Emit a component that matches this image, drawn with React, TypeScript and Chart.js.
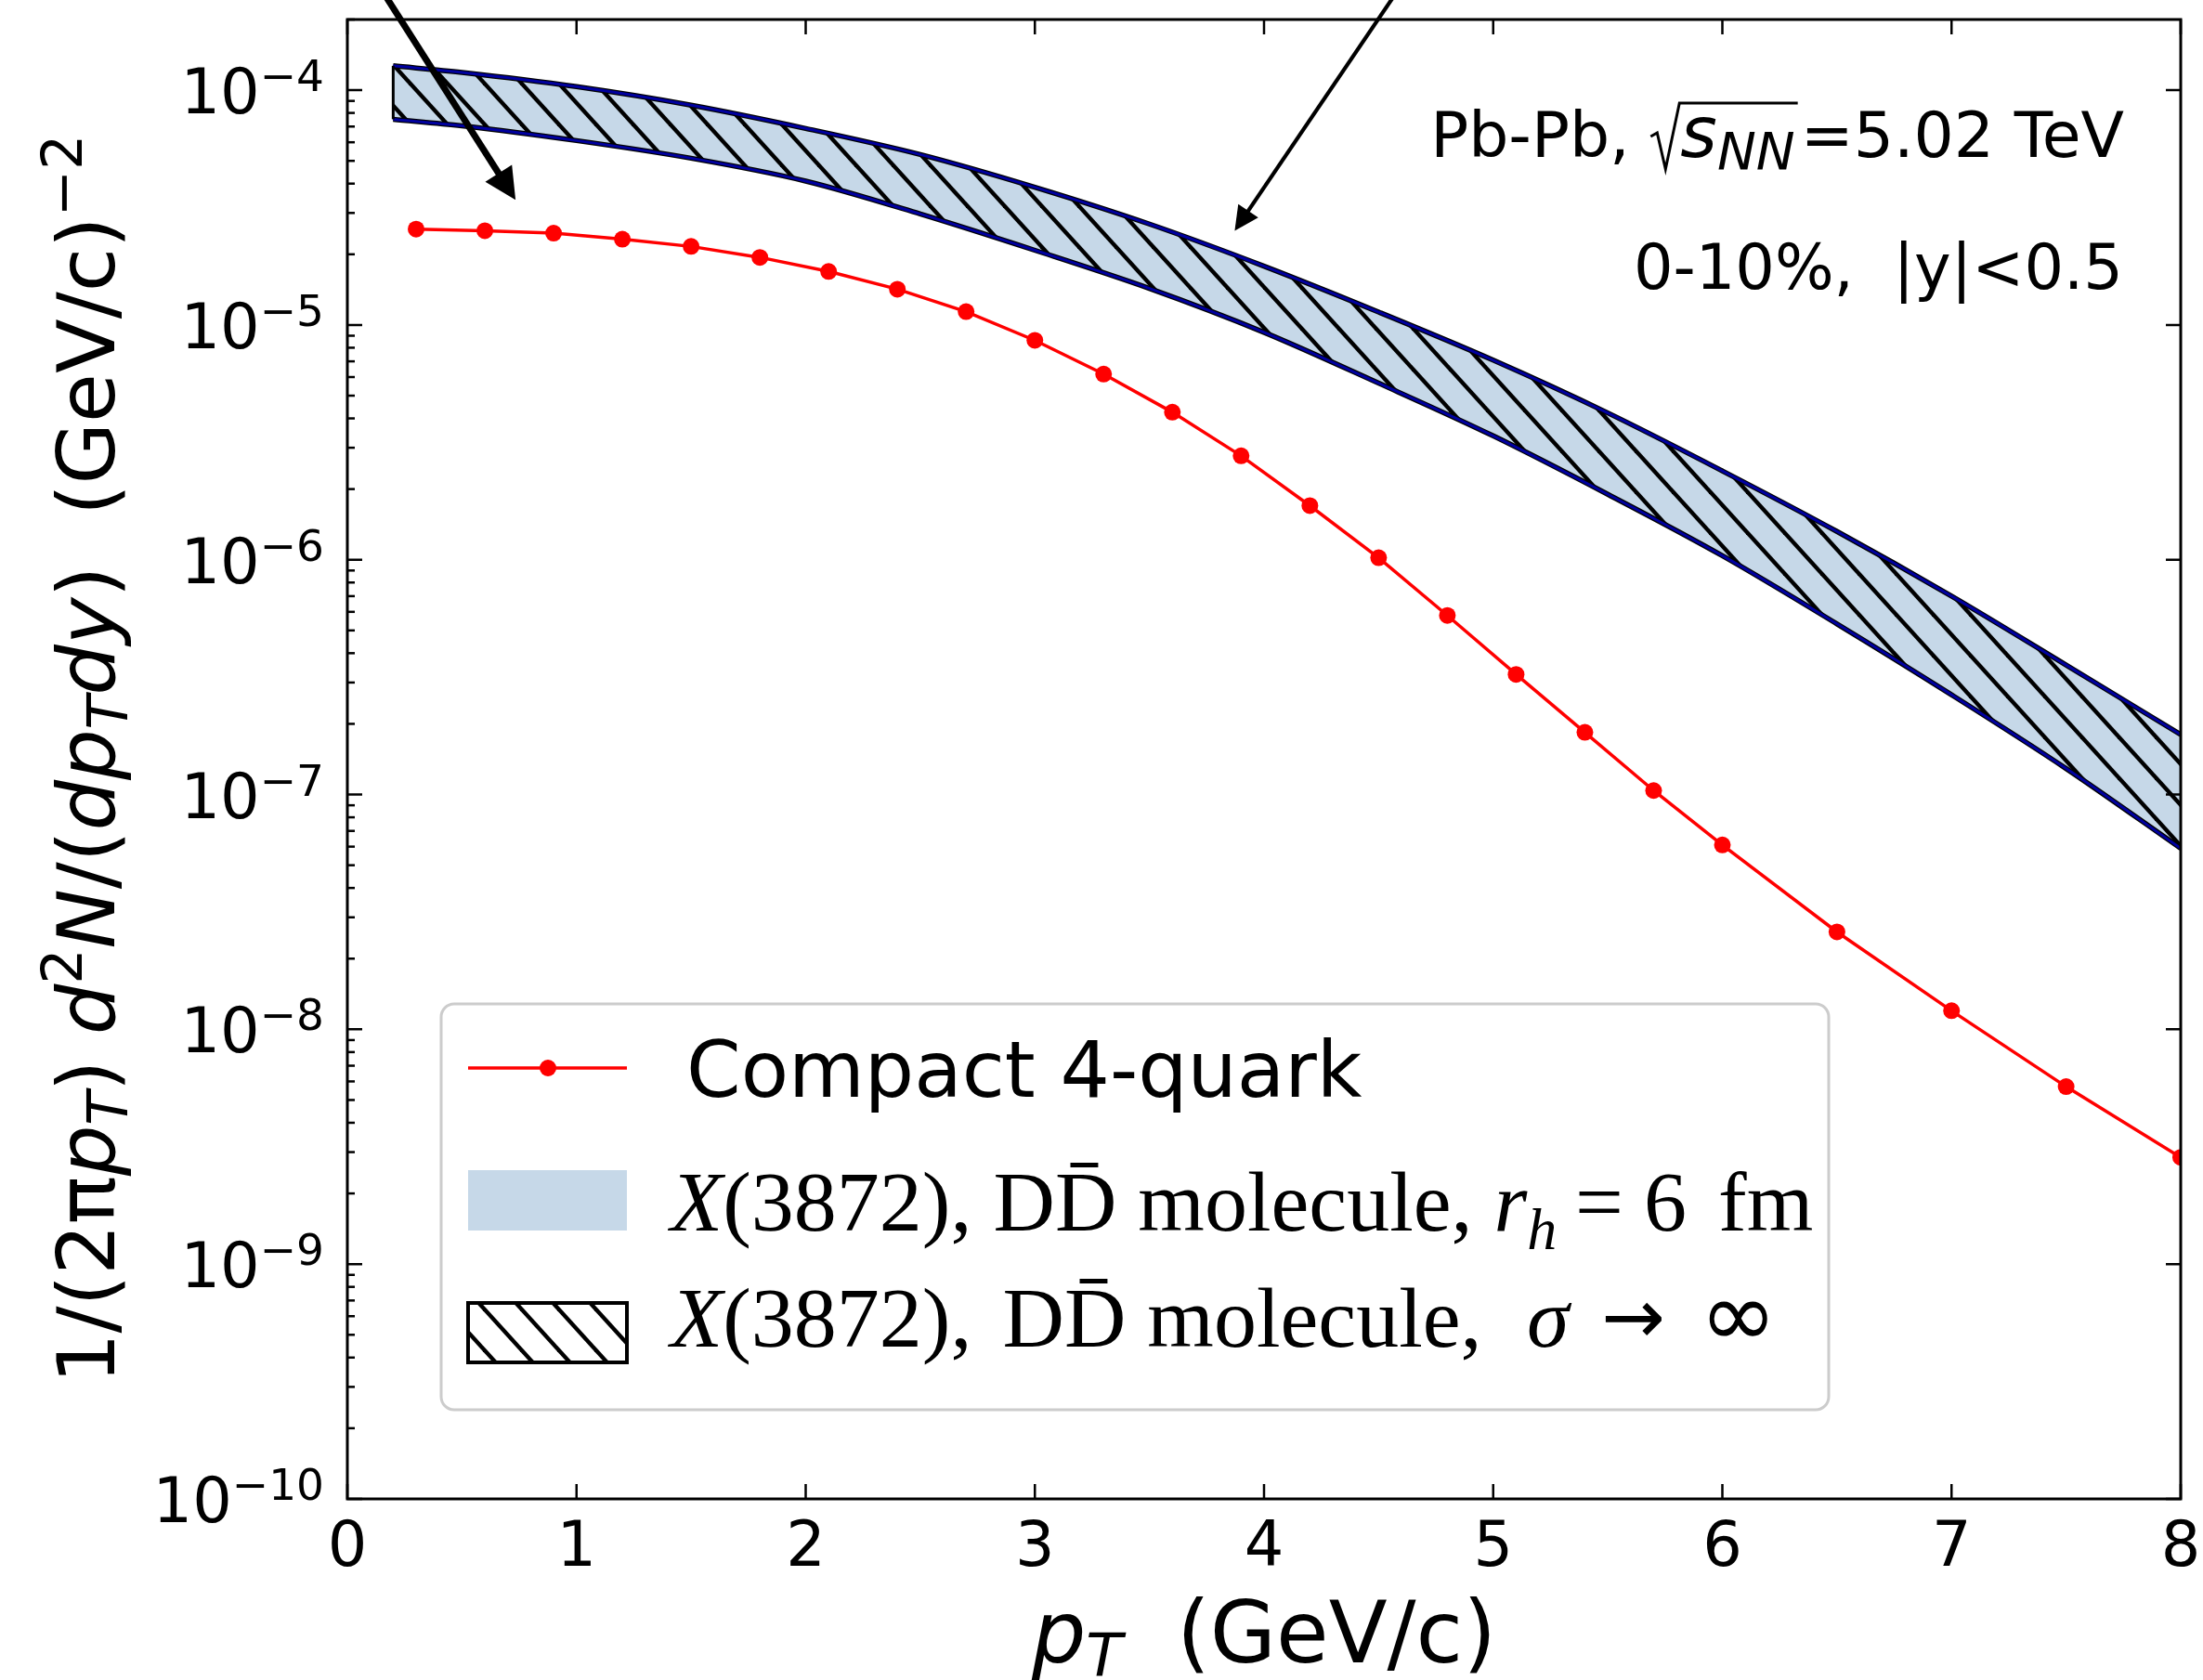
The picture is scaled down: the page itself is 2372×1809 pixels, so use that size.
import React, { useEffect, useRef } from 'react';
import { Chart, registerables } from 'chart.js';

Chart.register(...registerables);

// ---------------- data ----------------
const compactPt = [0.3, 0.6, 0.9, 1.2, 1.5, 1.8, 2.1, 2.4, 2.7, 3.0, 3.3, 3.6, 3.9, 4.2, 4.5, 4.8, 5.1, 5.4, 5.7, 6.0, 6.5, 7.0, 7.5, 8.0];
const compactYield = [2.56e-5, 2.52e-5, 2.46e-5, 2.32e-5, 2.16e-5, 1.94e-5, 1.69e-5, 1.42e-5, 1.14e-5, 8.6e-6, 6.18e-6, 4.25e-6, 2.77e-6, 1.7e-6, 1.02e-6, 5.79e-7, 3.25e-7, 1.84e-7, 1.04e-7, 6.1e-8, 2.6e-8, 1.2e-8, 5.7e-9, 2.85e-9];

const bandPt = [0.2, 0.5, 1.0, 1.5, 2.0, 2.5, 3.0, 3.5, 4.0, 4.5, 5.0, 5.5, 6.0, 6.5, 7.0, 7.5, 8.0];
const bandUpper = [1.27e-4, 1.19e-4, 1.035e-4, 8.63e-5, 6.87e-5, 5.32e-5, 3.86e-5, 2.69e-5, 1.78e-5, 1.135e-5, 7.08e-6, 4.22e-6, 2.39e-6, 1.32e-6, 7.0e-7, 3.56e-7, 1.8e-7];
const bandLower = [7.52e-5, 7.05e-5, 6.1e-5, 5.13e-5, 4.1e-5, 2.97e-5, 2.08e-5, 1.43e-5, 9.3e-6, 5.65e-6, 3.37e-6, 1.9e-6, 1.04e-6, 5.33e-7, 2.66e-7, 1.29e-7, 5.9e-8];

const xTickValues = [0, 1, 2, 3, 4, 5, 6, 7, 8];
const yTickExponents = [-10, -9, -8, -7, -6, -5, -4];

const legendCompact = 'Compact 4-quark';
const annotationLine2 = '0-10%,  |y|<0.5';

// arrows: [fromX, fromY, toX, toY] in data units
const arrowCompact = [0.178, 2.42e-4, 0.734, 3.41e-5];
const arrowMolecule = [4.555, 2.42e-4, 3.872, 2.52e-5];

// ---------------- styling ----------------
const W = 2372;
const H = 1809;
const SANS = '"DejaVu Sans", sans-serif';
const SERIF = '"Liberation Serif", "DejaVu Serif", serif';
const BAND_BLUE = 'rgb(198, 216, 232)';
const EDGE_BLUE = 'rgb(0, 0, 160)';

const nm = (s: number) => `${s}px ${SANS}`;
const it = (s: number) => `italic ${s}px ${SANS}`;
const snm = (s: number) => `${s}px ${SERIF}`;
const sit = (s: number) => `italic ${s}px ${SERIF}`;

type Run = { t: string; font: string; dy?: number; bar?: boolean; gap?: number; at?: number };

function runsWidth(ctx: CanvasRenderingContext2D, runs: Run[]) {
  let w = 0;
  for (const r of runs) {
    ctx.font = r.font;
    w += ctx.measureText(r.t).width + (r.gap || 0);
  }
  return w;
}

function drawRuns(ctx: CanvasRenderingContext2D, runs: Run[], x: number, y: number) {
  let cx = x;
  for (const r of runs) {
    if (r.at !== undefined) cx = r.at;
    ctx.font = r.font;
    const m = ctx.measureText(r.t);
    ctx.fillText(r.t, cx, y + (r.dy || 0));
    if (r.bar) {
      const top = y - m.actualBoundingBoxAscent;
      ctx.fillRect(cx + m.width * 0.25, top - 13, m.width * 0.45, 5);
    }
    cx += m.width + (r.gap || 0);
  }
  return cx;
}

// hatch tile: lines going down-right, period P horizontally, slope TH/P
function makeHatch(bg: string) {
  const P = 40;
  const TH = 44;
  const c = document.createElement('canvas');
  c.width = P;
  c.height = TH;
  const g = c.getContext('2d')!;
  g.fillStyle = bg;
  g.fillRect(0, 0, P, TH);
  g.strokeStyle = '#000';
  g.lineWidth = 4.4;
  for (let k = -3; k <= 3; k++) {
    g.beginPath();
    g.moveTo(k * P - 2 * P, -2 * TH);
    g.lineTo(k * P + 3 * P, 3 * TH);
    g.stroke();
  }
  return g.createPattern(c, 'repeat')!;
}

function drawArrow(ctx: CanvasRenderingContext2D, fx: number, fy: number, tx: number, ty: number, lw: number, hl: number, hw: number) {
  const dx = tx - fx;
  const dy = ty - fy;
  const L = Math.hypot(dx, dy);
  const ux = dx / L;
  const uy = dy / L;
  const bx = tx - ux * hl;
  const by = ty - uy * hl;
  ctx.lineWidth = lw;
  ctx.lineCap = 'butt';
  ctx.beginPath();
  ctx.moveTo(fx - ux * 60, fy - uy * 60);
  ctx.lineTo(bx + ux * 2, by + uy * 2);
  ctx.stroke();
  ctx.beginPath();
  ctx.moveTo(tx, ty);
  ctx.lineTo(bx - uy * hw, by + ux * hw);
  ctx.lineTo(bx + uy * hw, by - ux * hw);
  ctx.closePath();
  ctx.fill();
}

let legendHatch: CanvasPattern | null = null;

const decorPlugin = {
  id: 'decor',
  afterDraw(chart: any) {
    const ctx: CanvasRenderingContext2D = chart.ctx;
    const ca = chart.chartArea;
    const xs = chart.scales.x;
    const ys = chart.scales.y;
    ctx.save();
    ctx.fillStyle = '#000';
    ctx.strokeStyle = '#000';
    ctx.textBaseline = 'alphabetic';
    ctx.textAlign = 'left';

    // left closing edge of band
    const bx0 = xs.getPixelForValue(bandPt[0]);
    ctx.lineWidth = 3;
    ctx.beginPath();
    ctx.moveTo(bx0, ys.getPixelForValue(bandUpper[0]));
    ctx.lineTo(bx0, ys.getPixelForValue(bandLower[0]));
    ctx.stroke();

    // spines
    ctx.lineWidth = 3;
    ctx.strokeRect(ca.left, ca.top, ca.right - ca.left, ca.bottom - ca.top);

    // ticks
    ctx.lineWidth = 2.5;
    for (const v of xTickValues) {
      const px = xs.getPixelForValue(v);
      ctx.beginPath();
      ctx.moveTo(px, ca.bottom);
      ctx.lineTo(px, ca.bottom - 16);
      ctx.moveTo(px, ca.top);
      ctx.lineTo(px, ca.top + 16);
      ctx.stroke();
    }
    for (const e of yTickExponents) {
      const py = ys.getPixelForValue(Math.pow(10, e));
      ctx.beginPath();
      ctx.moveTo(ca.left, py);
      ctx.lineTo(ca.left + 16, py);
      ctx.moveTo(ca.right, py);
      ctx.lineTo(ca.right - 16, py);
      ctx.stroke();
      for (let k = 2; k <= 9; k++) {
        const v = k * Math.pow(10, e);
        if (v > ys.max * 1.0001) continue;
        const pm = ys.getPixelForValue(v);
        ctx.beginPath();
        ctx.moveTo(ca.left, pm);
        ctx.lineTo(ca.left + 8, pm);
        ctx.stroke();
      }
    }

    // x tick labels
    ctx.font = nm(67);
    ctx.textAlign = 'center';
    for (const v of xTickValues) {
      ctx.fillText(String(v), xs.getPixelForValue(v), 1686);
    }
    ctx.textAlign = 'left';

    // y tick labels 10^e
    for (const e of yTickExponents) {
      const py = ys.getPixelForValue(Math.pow(10, e));
      const sup = '\u2212' + String(-e);
      ctx.font = nm(47);
      const ws = ctx.measureText(sup).width;
      ctx.font = nm(67);
      const wm = ctx.measureText('10').width;
      const right = ca.left - 25;
      ctx.fillText('10', right - ws - wm, py + 25);
      ctx.font = nm(47);
      ctx.fillText(sup, right - ws, py + 1);
    }

    // x axis label
    const xl: Run[] = [
      { t: 'p', font: it(92) },
      { t: 'T', font: it(64), dy: 15 },
      { t: '  (GeV/c)', font: nm(92) },
    ];
    const xlw = runsWidth(ctx, xl);
    drawRuns(ctx, xl, (ca.left + ca.right) / 2 - xlw / 2, 1790);

    // y axis label
    const yl: Run[] = [
      { t: '1/(2\u03c0', font: nm(86) },
      { t: 'p', font: it(86) },
      { t: 'T', font: it(60), dy: 14 },
      { t: ') ', font: nm(86) },
      { t: 'd', font: it(86) },
      { t: '2', font: nm(60), dy: -35 },
      { t: 'N', font: it(86) },
      { t: '/(', font: nm(86) },
      { t: 'dp', font: it(86) },
      { t: 'T', font: it(60), dy: 14 },
      { t: 'dy', font: it(86) },
      { t: ')', font: nm(86) },
      { t: '  (GeV/c)', font: nm(86) },
      { t: '\u22122', font: nm(60), dy: -35 },
    ];
    const ylw = runsWidth(ctx, yl);
    ctx.save();
    ctx.translate(123, (ca.top + ca.bottom) / 2);
    ctx.rotate(-Math.PI / 2);
    drawRuns(ctx, yl, -ylw / 2, 0);
    ctx.restore();

    // annotation line 1: Pb-Pb, sqrt(s_NN)=5.02 TeV
    {
      const F = 68;
      const b = 169;
      const rightEdge = 2287;
      ctx.font = nm(F);
      const w1 = ctx.measureText('Pb-Pb, ').width;
      const radW = 33;
      ctx.font = it(76);
      const wsS = ctx.measureText('s').width;
      ctx.font = it(56);
      const wNN = ctx.measureText('NN').width;
      ctx.font = nm(F);
      const wRest = ctx.measureText('=5.02 TeV').width;
      const total = w1 + radW + wsS + wNN + 6 + wRest;
      let cx = rightEdge - total;
      ctx.font = nm(F);
      ctx.fillText('Pb-Pb, ', cx, b);
      cx += w1;
      const xr = cx;
      ctx.lineWidth = 3;
      ctx.lineJoin = 'miter';
      ctx.beginPath();
      ctx.moveTo(xr + 1, b - 22);
      ctx.lineTo(xr + 8, b - 26);
      ctx.lineTo(xr + 17, b + 13);
      ctx.lineTo(xr + radW - 1, b - 58);
      ctx.lineTo(xr + radW + wsS + wNN + 3, b - 58);
      ctx.stroke();
      cx += radW;
      ctx.font = it(76);
      ctx.fillText('s', cx, b);
      cx += wsS;
      ctx.font = it(56);
      ctx.fillText('NN', cx, b + 13);
      cx += wNN + 6;
      ctx.font = nm(F);
      ctx.fillText('=5.02 TeV', cx, b);
    }
    // annotation line 2
    ctx.font = nm(67);
    ctx.textAlign = 'right';
    ctx.fillText(annotationLine2, 2286, 311);
    ctx.textAlign = 'left';

    // legend
    ctx.fillStyle = 'rgba(255,255,255,0.8)';
    ctx.strokeStyle = '#cccccc';
    ctx.lineWidth = 3;
    ctx.beginPath();
    (ctx as any).roundRect(475, 1081, 1494, 437, 14);
    ctx.fill();
    ctx.stroke();

    // handle 1
    ctx.strokeStyle = 'red';
    ctx.fillStyle = 'red';
    ctx.lineWidth = 3.5;
    ctx.beginPath();
    ctx.moveTo(504, 1150);
    ctx.lineTo(675, 1150);
    ctx.stroke();
    ctx.beginPath();
    ctx.arc(590, 1150, 9, 0, Math.PI * 2);
    ctx.fill();
    // handle 2
    ctx.fillStyle = BAND_BLUE;
    ctx.fillRect(504, 1260, 171, 65);
    // handle 3
    if (!legendHatch) legendHatch = makeHatch('#ffffff');
    ctx.fillStyle = legendHatch;
    ctx.fillRect(504, 1403, 171, 64);
    ctx.strokeStyle = '#000';
    ctx.lineWidth = 4;
    ctx.strokeRect(504, 1403, 171, 64);

    ctx.fillStyle = '#000';
    ctx.font = nm(84);
    ctx.fillText(legendCompact, 739, 1181);

    const row2: Run[] = [
      { t: 'X', font: sit(92) },
      { t: '(3872), D', font: snm(92) },
      { t: 'D', font: snm(92), bar: true },
      { t: ' molecule, ', font: snm(92) },
      { t: 'r', font: sit(92) },
      { t: 'h', font: sit(64), dy: 20 },
      { t: '=', font: snm(92), at: 1696 },
      { t: '6', font: snm(92), at: 1770 },
      { t: 'fm', font: snm(92), at: 1850 },
    ];
    drawRuns(ctx, row2, 722, 1325);
    const row3: Run[] = [
      { t: 'X', font: sit(92) },
      { t: '(3872), ', font: snm(92), gap: 10 },
      { t: 'D', font: snm(92) },
      { t: 'D', font: snm(92), bar: true },
      { t: ' molecule,', font: snm(92) },
      { t: '\u03c3', font: sit(92), at: 1644 },
      { t: '\u2192', font: nm(82), dy: -4, at: 1724 },
      { t: '\u221e', font: nm(100), at: 1830 },
    ];
    drawRuns(ctx, row3, 722, 1450);

    // arrows
    ctx.fillStyle = '#000';
    ctx.strokeStyle = '#000';
    drawArrow(ctx,
      xs.getPixelForValue(arrowCompact[0]), ys.getPixelForValue(arrowCompact[1]),
      xs.getPixelForValue(arrowCompact[2]), ys.getPixelForValue(arrowCompact[3]),
      7, 34, 17);
    drawArrow(ctx,
      xs.getPixelForValue(arrowMolecule[0]), ys.getPixelForValue(arrowMolecule[1]),
      xs.getPixelForValue(arrowMolecule[2]), ys.getPixelForValue(arrowMolecule[3]),
      4.2, 26, 13);

    ctx.restore();
  },
};

export default function App() {
  const ref = useRef<HTMLCanvasElement>(null);
  useEffect(() => {
    const canvas = ref.current!;
    const hatch = makeHatch(BAND_BLUE);
    const upper = bandPt.map((x, i) => ({ x, y: bandUpper[i] }));
    const lower = bandPt.map((x, i) => ({ x, y: bandLower[i] }));
    const compact = compactPt.map((x, i) => ({ x, y: compactYield[i] }));
    const chart = new Chart(canvas, {
      type: 'line',
      data: {
        datasets: [
          {
            label: 'band upper',
            data: upper,
            borderColor: '#000',
            borderWidth: 5.5,
            backgroundColor: hatch as any,
            fill: '+1',
            pointRadius: 0,
            cubicInterpolationMode: 'monotone',
            order: 5,
            clip: 0,
          },
          {
            label: 'band lower',
            data: lower,
            borderColor: '#000',
            borderWidth: 5.5,
            fill: false,
            pointRadius: 0,
            cubicInterpolationMode: 'monotone',
            order: 5,
            clip: 0,
          },
          {
            label: 'upper edge',
            data: upper,
            borderColor: EDGE_BLUE,
            borderWidth: 3,
            fill: false,
            pointRadius: 0,
            cubicInterpolationMode: 'monotone',
            order: 3,
            clip: 0,
          },
          {
            label: 'lower edge',
            data: lower,
            borderColor: EDGE_BLUE,
            borderWidth: 3,
            fill: false,
            pointRadius: 0,
            cubicInterpolationMode: 'monotone',
            order: 3,
            clip: 0,
          },
          {
            label: legendCompact,
            data: compact,
            borderColor: 'red',
            backgroundColor: 'red',
            borderWidth: 3.5,
            fill: false,
            pointRadius: 9,
            pointBorderWidth: 0,
            pointBackgroundColor: 'red',
            tension: 0,
            order: 1,
            clip: 0,
          },
        ] as any,
      },
      options: {
        responsive: false,
        devicePixelRatio: 1,
        animation: false,
        events: [],
        layout: { padding: { left: 0, right: 24, top: 21, bottom: 0 } },
        plugins: {
          legend: { display: false },
          tooltip: { enabled: false },
          filler: { drawTime: 'beforeDatasetsDraw' },
        } as any,
        scales: {
          x: {
            type: 'linear',
            min: 0,
            max: 8,
            grid: { display: false },
            border: { display: false },
            ticks: { display: false },
            afterFit: (s: any) => { s.height = 195; },
          },
          y: {
            type: 'logarithmic',
            min: 1e-10,
            max: 2e-4,
            grid: { display: false },
            border: { display: false },
            ticks: { display: false },
            afterFit: (s: any) => { s.width = 374; },
          },
        } as any,
      },
      plugins: [decorPlugin],
    });
    return () => chart.destroy();
  }, []);
  return (
    <div style={{ position: 'absolute', left: 0, top: 0, width: W, height: H, background: '#fff' }}>
      <canvas ref={ref} width={W} height={H} style={{ display: 'block', width: W, height: H }} />
    </div>
  );
}
